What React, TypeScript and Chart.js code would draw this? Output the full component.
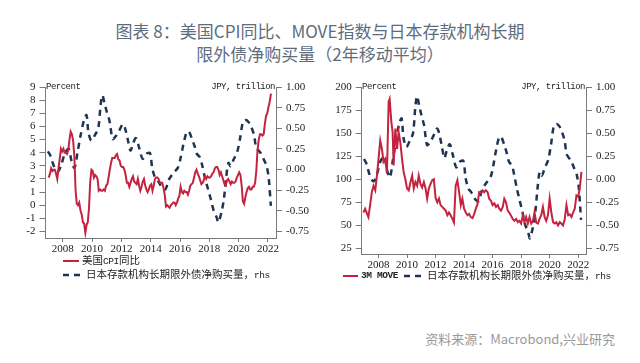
import React, { useEffect, useRef } from "react";
import { Chart, registerables } from "chart.js";

Chart.register(...registerables);

// ---------- data ----------
const yearTicks = [2008, 2010, 2012, 2014, 2016, 2018, 2020, 2022];
const cpiTicks = [-2, -1, 0, 1, 2, 3, 4, 5, 6, 7, 8, 9];
const moveTicks = [25, 50, 75, 100, 125, 150, 175, 200];
const jpyTicks = [-0.75, -0.5, -0.25, 0, 0.25, 0.5, 0.75, 1];

// US CPI YoY, monthly from Jan 2007 (percent)
const cpiStart = 2007;
const cpiValues = [
  2.1, 2.4, 2.8, 2.6, 2.7, 2.7, 2.4, 2.0, 2.8, 3.5, 4.3, 4.1,
  4.3, 4.0, 4.0, 3.9, 4.2, 5.0, 5.6, 5.4, 4.9, 3.7, 1.1, 0.1,
  0.0, 0.2, -0.4, -0.7, -1.3, -1.4, -2.1, -1.5, -1.3, -0.2, 1.8, 2.7,
  2.6, 2.1, 2.3, 2.2, 2.0, 1.1, 1.2, 1.1, 1.1, 1.2, 1.1, 1.5,
  1.6, 2.1, 2.7, 3.2, 3.6, 3.6, 3.6, 3.8, 3.9, 3.5, 3.4, 3.0,
  2.9, 2.9, 2.7, 2.3, 1.7, 1.7, 1.4, 1.7, 2.0, 2.2, 1.8, 1.7,
  1.6, 2.0, 1.5, 1.1, 1.4, 1.8, 2.0, 1.5, 1.2, 1.0, 1.2, 1.5,
  1.6, 1.1, 1.5, 2.0, 2.1, 2.1, 2.0, 1.7, 1.7, 1.7, 1.3, 0.8,
  -0.1, 0.0, -0.1, -0.2, 0.0, 0.1, 0.2, 0.2, 0.0, 0.2, 0.5, 0.7,
  1.4, 1.0, 0.9, 1.1, 1.0, 1.0, 0.8, 1.1, 1.5, 1.6, 1.7, 2.1,
  2.5, 2.7, 2.4, 2.2, 1.9, 1.6, 1.7, 1.9, 2.2, 2.0, 2.2, 2.1,
  2.1, 2.2, 2.4, 2.5, 2.8, 2.9, 2.9, 2.7, 2.3, 2.5, 2.2, 1.9,
  1.6, 1.5, 1.9, 2.0, 1.8, 1.6, 1.8, 1.7, 1.7, 1.8, 2.1, 2.3,
  2.5, 2.3, 1.5, 0.3, 0.1, 0.6, 1.0, 1.3, 1.4, 1.2, 1.2, 1.4,
  1.4, 1.7, 2.6, 4.2, 5.0, 5.4, 5.4, 5.3, 5.4, 6.2, 6.8, 7.0,
  7.5, 7.9, 8.5,
];

// 3M MOVE index
const moveDates = [
  2006.94, 2007.06, 2007.29, 2007.41, 2007.53, 2007.65, 2007.77, 2007.89,
  2008.0, 2008.12, 2008.24, 2008.35, 2008.47, 2008.59, 2008.71, 2008.78,
  2008.9, 2008.99, 2009.06, 2009.18, 2009.3, 2009.41, 2009.53, 2009.65,
  2009.76, 2009.88, 2010.0, 2010.12, 2010.24, 2010.36, 2010.47, 2010.59,
  2010.71, 2010.82, 2010.94, 2011.06, 2011.18, 2011.3, 2011.41, 2011.53,
  2011.65, 2011.77, 2011.88, 2012.0, 2012.12, 2012.24, 2012.35, 2012.47,
  2012.59, 2012.71, 2012.83, 2012.94, 2013.06, 2013.18, 2013.29, 2013.41,
  2013.53, 2013.65, 2013.77, 2013.88, 2014.0, 2014.12, 2014.24, 2014.35,
  2014.47, 2014.59, 2014.7, 2014.82, 2014.94, 2015.06, 2015.18, 2015.3,
  2015.41, 2015.53, 2015.65, 2015.76, 2015.88, 2016.0, 2016.12, 2016.24,
  2016.36, 2016.47, 2016.59, 2016.71, 2016.82, 2016.94, 2017.06, 2017.17,
  2017.29, 2017.41, 2017.53, 2017.65, 2017.77, 2017.88, 2018.0, 2018.12,
  2018.23, 2018.35, 2018.47, 2018.59, 2018.71, 2018.83, 2018.94, 2019.06,
  2019.18, 2019.29, 2019.41, 2019.53, 2019.65, 2019.76, 2019.88, 2020.0,
  2020.12, 2020.24, 2020.35, 2020.47, 2020.59, 2020.71, 2020.82, 2020.94,
  2021.06, 2021.18, 2021.3, 2021.41, 2021.53, 2021.65, 2021.76, 2021.88,
  2022.0, 2022.11, 2022.23,
];
const moveValues = [
  64, 68, 59, 72, 86, 93, 88, 104,
  122, 142, 133, 119, 122, 106, 184, 187,
  162, 151, 115, 155, 133, 151, 140, 122,
  108, 100, 90, 88, 97, 104, 90, 97,
  93, 104, 95, 91, 97, 90, 79, 90,
  95, 99, 100, 80, 75, 79, 72, 70,
  68, 66, 61, 64, 61, 57, 53, 93,
  99, 86, 72, 79, 68, 64, 61, 62.5,
  59, 58, 62, 68, 73, 86, 85, 88,
  86, 88, 86, 79, 77, 72, 74, 70,
  72, 68, 66, 70, 79, 75, 66, 64,
  60.6, 57, 55, 57, 53.5, 55, 52, 60.6,
  53.5, 59, 52, 59, 52, 55, 64, 53,
  52, 57, 61, 70, 59, 55, 61, 79,
  64, 53.5, 52, 53.5, 50, 53.5, 52, 50,
  57, 72, 61, 62, 59, 64, 68, 82.5,
  81, 90, 108,
];

// Japanese depository institutions' net purchases of long-term foreign bonds (2y MA), JPY trillion
const jpyDates = [
  2006.98, 2007.15, 2007.35, 2007.55, 2007.7, 2007.9, 2008.15, 2008.4,
  2008.6, 2008.8, 2009.0, 2009.2, 2009.45, 2009.62, 2009.75, 2009.95,
  2010.2, 2010.42, 2010.58, 2010.7, 2010.85, 2011.0, 2011.2, 2011.4,
  2011.6, 2011.85, 2012.1, 2012.25, 2012.45, 2012.62, 2012.8, 2013.0,
  2013.2, 2013.45, 2013.7, 2013.95, 2014.1, 2014.3, 2014.5, 2014.75,
  2015.0, 2015.25, 2015.55, 2015.85, 2016.05, 2016.25, 2016.45, 2016.6,
  2016.8, 2017.0, 2017.15, 2017.35, 2017.5, 2017.7, 2017.9, 2018.1,
  2018.3, 2018.5, 2018.62, 2018.85, 2019.0, 2019.15, 2019.3, 2019.45,
  2019.68, 2019.9, 2020.1, 2020.3, 2020.5, 2020.7, 2020.85, 2021.05,
  2021.2, 2021.5, 2021.72, 2021.9, 2022.05, 2022.2,
];
const jpyValues = [
  0.22, 0.17, 0.06, -0.01, -0.02, 0.06, 0.2, 0.25,
  0.1, 0.02, 0.2, 0.4, 0.6, 0.66, 0.45, 0.35,
  0.42, 0.5, 0.78, 0.9, 0.8, 0.7, 0.58, 0.37,
  0.4, 0.47, 0.55, 0.5, 0.35, 0.23, 0.32, 0.38,
  0.27, 0.13, 0.19, 0.2, 0.02, -0.1, -0.14, -0.21,
  -0.24, -0.12, -0.04, 0.02, 0.15, 0.32, 0.45, 0.46,
  0.38, 0.28, 0.19, 0.15, 0.06, -0.1, -0.23, -0.36,
  -0.5, -0.58, -0.64, -0.5, -0.35, -0.1, 0.08, 0.04,
  0.13, 0.21, 0.38, 0.58, 0.6, 0.57, 0.52, 0.42,
  0.27, 0.2, 0.12, 0.05, -0.1, -0.44,
];

// ---------- styles ----------
const RED = "#c4233f";
const NAVY = "#1f3452";
const AXIS = "#7a7a7a";
const TICK_TEXT = "#222";
const SERIF = "'Liberation Serif', 'DejaVu Serif', serif";
const MONO = '"Liberation Mono", "Noto Sans CJK SC", monospace';
const CJK = '"Noto Sans CJK SC", "Noto Sans", sans-serif';

type Params = {
  leftMin: number;
  leftMax: number;
  leftTicks: number[];
  rightMin: number;
  rightMax: number;
  leftWidth: number;
  rightWidth: number;
  xHeight: number;
  topPad: number;
  red: { x: number; y: number }[];
  dash: { x: number; y: number }[];
};

function buildConfig(p: Params): any {
  const tickFont = { family: SERIF, size: 11 };
  return {
    type: "line",
    data: {
      datasets: [
        {
          data: p.red,
          yAxisID: "y",
          borderColor: RED,
          borderWidth: 2,
          pointRadius: 0,
          tension: 0,
          order: 1,
        },
        {
          data: p.dash,
          yAxisID: "y1",
          borderColor: NAVY,
          borderWidth: 2.5,
          borderDash: [6, 5],
          pointRadius: 0,
          tension: 0.3,
          order: 2,
        },
      ],
    },
    options: {
      animation: false,
      responsive: false,
      events: [],
      layout: { padding: { top: p.topPad, left: 0, right: 0, bottom: 0 } },
      plugins: { legend: { display: false }, tooltip: { enabled: false } },
      scales: {
        x: {
          type: "linear",
          min: 2006.82,
          max: 2022.55,
          afterBuildTicks: (s: any) => {
            s.ticks = yearTicks.map((v) => ({ value: v }));
          },
          afterFit: (s: any) => {
            s.height = p.xHeight;
          },
          grid: { display: true, drawOnChartArea: false, drawTicks: true, tickLength: 4, color: AXIS },
          border: { display: true, color: AXIS, width: 1 },
          ticks: {
            font: tickFont,
            color: TICK_TEXT,
            padding: 1,
            maxRotation: 0,
            autoSkip: false,
            callback: (v: any) => String(v),
          },
        },
        y: {
          type: "linear",
          position: "left",
          min: p.leftMin,
          max: p.leftMax,
          afterBuildTicks: (s: any) => {
            s.ticks = p.leftTicks.map((v) => ({ value: v }));
          },
          afterFit: (s: any) => {
            s.width = p.leftWidth;
          },
          grid: { display: true, drawOnChartArea: false, drawTicks: true, tickLength: 6, color: AXIS },
          border: { display: true, color: AXIS, width: 1 },
          ticks: {
            font: tickFont,
            color: TICK_TEXT,
            padding: 4,
            autoSkip: false,
            callback: (v: any) => String(v),
          },
        },
        y1: {
          type: "linear",
          position: "right",
          min: p.rightMin,
          max: p.rightMax,
          afterBuildTicks: (s: any) => {
            s.ticks = jpyTicks.map((v) => ({ value: v }));
          },
          afterFit: (s: any) => {
            s.width = p.rightWidth;
          },
          grid: { display: true, drawOnChartArea: false, drawTicks: true, tickLength: 6, color: AXIS },
          border: { display: true, color: AXIS, width: 1 },
          ticks: {
            font: tickFont,
            color: TICK_TEXT,
            padding: 4,
            autoSkip: false,
            callback: (v: any) => Number(v).toFixed(2),
          },
        },
      },
    },
  };
}

function ChartBox(props: { left: number; top: number; width: number; height: number; params: Params }) {
  const ref = useRef<HTMLCanvasElement | null>(null);
  useEffect(() => {
    if (!ref.current) return;
    const chart = new Chart(ref.current, buildConfig(props.params));
    return () => chart.destroy();
  }, []);
  return (
    <canvas
      ref={ref}
      width={props.width}
      height={props.height}
      style={{ position: "absolute", left: props.left, top: props.top, width: props.width, height: props.height }}
    />
  );
}

function LineSample(props: { left: number; top: number; dashed?: boolean; width: number }) {
  return (
    <svg
      style={{ position: "absolute", left: props.left, top: props.top - 3 }}
      width={props.width}
      height={6}
    >
      <line
        x1={0}
        y1={3}
        x2={props.width}
        y2={3}
        stroke={props.dashed ? NAVY : RED}
        strokeWidth={props.dashed ? 2.5 : 2}
        strokeDasharray={props.dashed ? "6 5" : undefined}
      />
    </svg>
  );
}

function Txt(props: { left?: number; right?: number; top: number; children: any; style?: any }) {
  return (
    <div
      style={{
        position: "absolute",
        left: props.left,
        right: props.right,
        top: props.top,
        transform: "translateY(-50%)",
        whiteSpace: "nowrap",
        lineHeight: 1,
        ...props.style,
      }}
    >
      {props.children}
    </div>
  );
}

const lat = { fontFamily: MONO, fontSize: 9.5, letterSpacing: -0.4 };
const legendCjk = { fontFamily: CJK, fontSize: 10.5, color: "#222" };
const unitStyle = { fontFamily: MONO, fontSize: 9, letterSpacing: -0.5, color: "#222" };

export default function App() {
  const cpiData = cpiValues.map((v, i) => ({ x: cpiStart + i / 12 + 0.04, y: v }));
  const moveData = moveValues.map((v, i) => ({ x: moveDates[i], y: v }));
  const jpyData = jpyValues.map((v, i) => ({ x: jpyDates[i], y: v }));

  const leftParams: Params = {
    leftMin: -2.5,
    leftMax: 9,
    leftTicks: cpiTicks,
    rightMin: -0.83,
    rightMax: 1.0,
    leftWidth: 45.5,
    rightWidth: 44,
    xHeight: 20,
    topPad: 17,
    red: cpiData,
    dash: jpyData,
  };
  const rightParams: Params = {
    leftMin: 19,
    leftMax: 200,
    leftTicks: moveTicks,
    rightMin: -0.81,
    rightMax: 1.0,
    leftWidth: 41.7,
    rightWidth: 54,
    xHeight: 21,
    topPad: 17,
    red: moveData,
    dash: jpyData,
  };

  return (
    <div
      style={{
        position: "absolute",
        left: 0,
        top: 0,
        width: 640,
        height: 363,
        background: "#ffffff",
        overflow: "hidden",
      }}
    >
      <div
        style={{
          position: "absolute",
          left: 0,
          width: 640,
          top: 19,
          textAlign: "center",
          fontFamily: CJK,
          fontSize: 17,
          lineHeight: "23px",
          color: "#5d6d7e",
        }}
      >
        <div>图表 8：美国CPI同比、MOVE指数与日本存款机构长期</div>
        <div>限外债净购买量（2年移动平均）</div>
      </div>

      <ChartBox left={0} top={70} width={320} height={188} params={leftParams} />
      <ChartBox left={320} top={70} width={320} height={205} params={rightParams} />

      {/* axis unit labels */}
      <Txt left={46} top={87} style={unitStyle}>Percent</Txt>
      <Txt right={640 - 275} top={87} style={unitStyle}>JPY, trillion</Txt>
      <Txt left={362} top={87} style={unitStyle}>Percent</Txt>
      <Txt right={640 - 585} top={87} style={unitStyle}>JPY, trillion</Txt>

      {/* left legend */}
      <LineSample left={63} top={261} width={16} />
      <Txt left={82} top={261} style={legendCjk}>
        美国<span style={lat}>CPI</span>同比
      </Txt>
      <LineSample left={63} top={275} width={17} dashed />
      <Txt left={86} top={275} style={legendCjk}>
        日本存款机构长期限外债净购买量，<span style={lat}>rhs</span>
      </Txt>

      {/* right legend */}
      <LineSample left={343} top={276} width={15} />
      <Txt left={361} top={276} style={{ ...lat, color: "#222", fontWeight: "bold" }}>3M MOVE</Txt>
      <LineSample left={404} top={276} width={17} dashed />
      <Txt left={427} top={276} style={legendCjk}>
        日本存款机构长期限外债净购买量，<span style={lat}>rhs</span>
      </Txt>

      <Txt right={25} top={338} style={{ fontFamily: CJK, fontSize: 13, color: "#9a9a9a" }}>
        资料来源：Macrobond,兴业研究
      </Txt>
    </div>
  );
}
